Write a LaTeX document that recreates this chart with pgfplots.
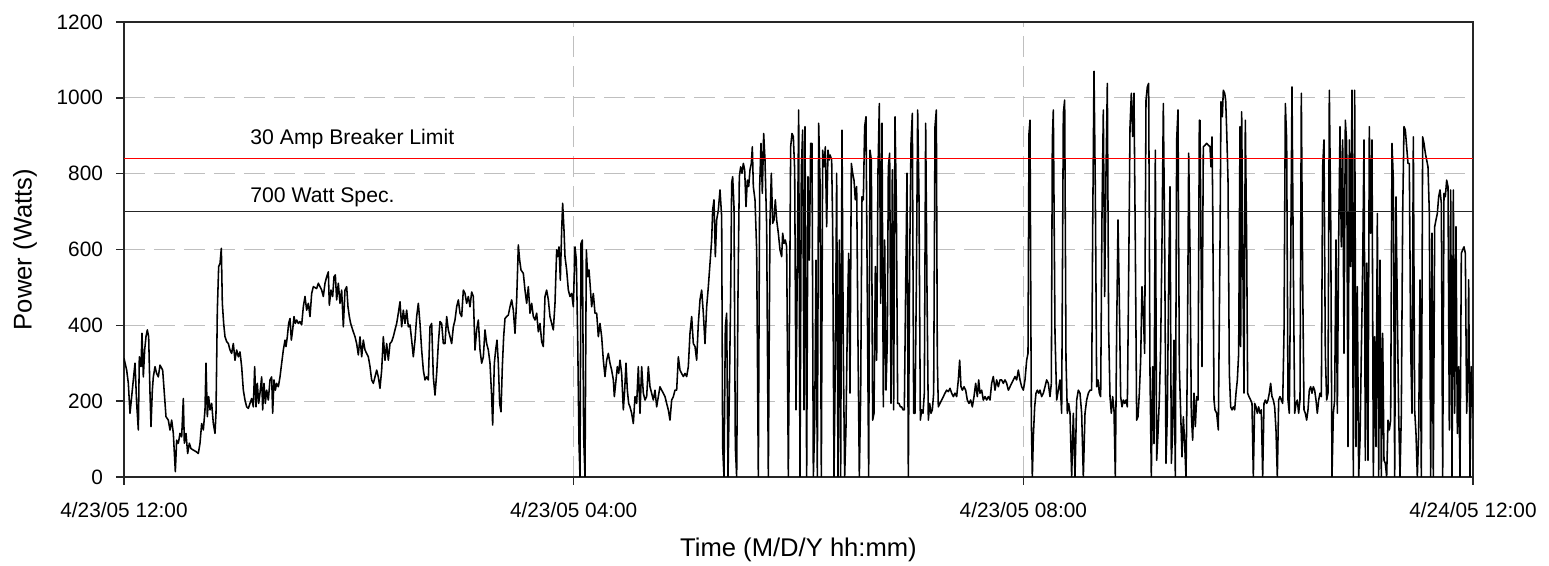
\documentclass[border=0pt]{standalone}
\usepackage{fontspec}
\setmainfont{Liberation Sans}
\usepackage{pgfplots}
\pgfplotsset{compat=1.18}
\usepackage{pgfplotstable}

% Power readings (W); X = horizontal position within each traced stretch
\pgfplotstableread{
X W
12 313
20 282
25 247
30 168
35 212
40 256
45 300
50 194
55 124
58 317
63 291
66 379
70 264
74 335
78 370
82 388
86 370
90 221
93 133
97 229
100 264
105 291
110 273
115 264
120 295
128 282
133 221
138 159
145 150
150 124
155 150
160 115
166 14
170 97
175 89
180 115
185 106
190 207
193 89
198 115
203 62
208 89
213 75
220 71
228 67
235 62
240 89
245 141
250 124
255 177
258 300
262 159
266 212
270 177
275 194
280 141
285 115
288 168
292 440
296 555
300 563
304 603
307 458
311 405
315 370
320 357
325 352
330 335
335 326
340 352
345 308
350 335
355 317
360 330
365 291
370 229
375 203
380 185
385 181
390 194
395 207
400 185
404 291
408 185
412 247
416 194
420 221
425 264
428 177
432 247
436 194
440 229
445 203
450 256
455 264
458 168
462 256
466 229
470 247
475 238
480 264
485 300
490 335
495 361
498 344
502 370
506 405
510 418
514 361
518 388
522 423
526 405
530 414
535 405
540 410
545 401
550 449
555 476
560 440
565 458
570 423
575 484
580 502
590 497
595 511
600 502
605 493
610 476
615 511
620 528
625 541
628 453
633 493
638 476
642 528
646 533
650 467
655 511
660 458
665 493
670 396
675 493
680 502
684 449
688 423
692 405
698 388
705 370
710 352
715 322
720 370
}\segA

\pgfplotstableread{
X W
15 370
20 317
25 361
30 335
35 326
40 317
45 291
50 256
55 247
60 264
65 282
70 264
75 234
80 282
85 370
90 308
95 352
100 308
105 352
110 357
115 370
120 388
125 405
130 432
135 462
140 396
145 440
150 405
155 440
160 396
165 401
170 361
175 317
180 361
185 423
190 458
195 405
200 335
205 282
210 256
215 264
220 256
225 396
230 405
235 264
240 216
245 273
250 352
255 410
260 405
265 352
270 352
275 423
280 388
285 370
290 352
295 396
300 414
305 449
310 467
315 432
320 423
325 493
330 484
335 458
340 476
345 449
350 488
355 476
360 335
365 388
370 414
375 335
380 300
385 317
390 388
395 352
400 335
405 300
410 212
413 137
418 300
422 335
426 361
430 300
434 194
438 172
442 291
446 370
450 418
455 423
460 427
465 449
470 467
475 440
480 379
485 467
490 612
494 572
498 546
505 537
510 493
515 458
520 502
525 432
530 458
535 423
540 414
545 432
550 383
555 405
560 357
565 344
570 476
575 493
580 467
585 423
590 405
595 388
600 458
605 599
608 581
612 607
616 519
620 651
623 722
627 651
630 581
635 546
640 493
645 476
650 484
655 449
660 607
664 572
668 370
672 89
675 0
678 616
682 625
686 106
690 0
694 599
698 528
702 546
705 511
}\segB

\pgfplotstableread{
X W
0 511
5 449
10 484
15 432
20 432
25 370
30 405
35 370
40 308
45 265
50 308
55 326
60 300
65 282
70 256
73 212
78 256
82 291
86 273
90 308
95 273
100 177
104 229
108 300
112 229
116 194
120 185
125 168
130 141
135 212
140 194
145 291
150 168
155 291
160 221
165 203
170 212
175 291
180 238
185 221
190 203
195 229
200 185
205 212
210 238
215 229
220 221
225 212
230 194
235 177
240 150
245 203
250 212
255 229
260 229
265 317
270 282
275 273
280 265
285 273
290 265
295 291
300 379
305 423
310 352
315 344
320 308
325 405
330 467
335 493
340 432
345 352
350 449
355 502
360 563
365 625
368 704
372 731
376 581
380 678
385 704
390 757
395 687
398 80
402 0
406 396
410 432
414 0
418 221
422 484
425 775
428 792
432 713
436 80
440 0
444 484
448 792
452 818
456 801
460 827
464 810
468 713
472 783
476 766
480 810
484 827
487 871
490 766
495 731
500 599
505 0
509 766
513 880
517 748
521 906
525 836
530 660
535 0
540 678
544 801
548 669
552 678
556 731
560 678
565 643
570 599
575 581
578 643
582 616
586 625
590 607
595 0
598 352
602 871
606 906
610 898
614 810
618 177
622 572
626 968
630 0
634 810
638 915
642 177
645 924
650 0
654 792
658 572
662 880
666 880
670 0
674 133
678 572
682 0
686 933
690 783
694 0
698 862
702 818
706 871
710 660
714 862
718 836
720 850
}\segC

\pgfplotstableread{
X W
30 850
35 836
38 660
42 0
46 308
50 801
54 0
58 625
62 0
66 915
70 326
74 0
78 133
82 405
86 590
90 221
94 827
98 801
102 783
106 731
110 766
114 352
118 0
122 221
126 739
130 731
134 924
138 950
142 467
146 0
150 862
154 836
158 150
162 168
166 555
170 308
174 810
178 985
182 458
186 933
190 185
194 625
198 229
202 361
205 818
209 854
213 194
217 810
221 177
225 950
229 722
233 194
237 194
241 185
245 185
249 177
253 177
257 502
261 801
265 0
269 572
273 880
277 959
281 168
285 168
289 502
293 968
297 739
301 150
305 177
309 168
313 221
317 933
321 493
325 150
329 194
333 168
337 177
341 221
345 924
349 968
352 308
355 185
360 194
365 203
370 212
375 221
380 229
385 225
390 234
395 221
400 212
405 221
410 212
415 256
419 308
423 238
427 229
432 238
437 229
442 203
447 194
452 203
457 185
462 212
467 247
472 212
476 256
480 221
485 229
490 203
495 212
500 203
505 212
510 203
515 247
520 265
525 229
530 256
535 238
540 256
545 256
550 247
555 256
560 247
565 229
570 238
575 247
580 256
585 265
590 256
595 282
600 256
605 238
610 229
615 256
620 308
624 326
627 906
630 941
634 150
637 0
640 106
644 185
648 221
652 229
656 221
660 229
665 212
670 221
675 238
680 256
685 247
690 212
694 247
}\segD

\pgfplotstableread{
X W
334 247
337 889
340 968
345 379
350 203
355 229
360 256
365 168
370 959
374 994
378 308
382 168
386 194
390 168
395 0
400 168
405 0
410 203
415 229
420 221
425 168
430 0
435 168
440 203
445 221
450 229
455 229
458 651
462 1070
466 757
470 238
474 256
478 221
482 212
486 695
490 968
494 476
498 801
502 1038
506 388
510 212
514 168
518 212
522 177
526 0
530 388
534 678
538 467
542 212
546 185
550 203
554 194
558 203
562 185
566 528
570 924
574 1012
578 898
582 1012
586 607
590 150
594 159
598 221
602 308
606 502
610 432
614 326
618 994
622 1029
626 1038
630 273
634 0
638 291
642 88
646 862
650 44
654 115
658 203
662 344
666 625
670 985
674 625
678 36
682 168
686 520
690 766
694 36
698 124
702 361
706 0
710 889
714 968
718 291
722 168
726 53
730 159
734 88
738 0
742 300
746 854
750 599
754 168
758 97
762 221
766 133
770 212
774 203
778 941
780 941
}\segE

\pgfplotstableread{
X W
0 941
3 607
6 291
10 871
15 875
20 880
25 875
30 871
33 818
36 897
38 739
42 203
45 177
50 168
55 124
60 616
63 990
67 950
70 1020
74 1012
77 994
80 915
84 783
88 273
92 185
96 177
100 185
104 177
108 221
112 256
116 326
120 924
122 344
125 963
128 625
132 221
136 941
140 616
143 221
147 212
152 203
156 194
160 0
164 194
168 185
172 168
176 185
180 168
184 177
188 0
192 194
196 203
200 194
204 203
208 221
212 247
216 212
220 203
224 185
228 124
232 0
236 203
240 212
244 203
248 194
252 379
256 985
260 889
264 203
268 168
272 555
276 1029
280 555
284 168
288 194
292 203
296 168
300 203
304 1012
308 520
312 177
316 168
320 150
324 177
328 229
332 238
336 221
340 238
344 229
348 203
352 168
356 203
360 221
364 212
368 818
372 889
376 326
380 203
384 221
388 1020
392 695
396 0
400 168
404 203
408 625
412 168
416 625
420 924
424 607
428 889
432 326
436 941
440 880
444 80
448 889
452 555
456 1020
460 0
464 1020
468 80
472 502
476 0
480 97
484 326
488 555
492 889
496 44
500 564
504 44
508 924
512 643
516 889
520 0
524 370
528 80
532 695
536 0
540 572
544 0
548 379
552 44
556 36
560 0
564 150
568 124
572 150
576 880
580 783
584 0
588 739
592 440
596 168
600 0
604 168
608 695
612 924
616 915
620 871
624 827
628 827
632 344
636 168
640 897
644 177
648 115
652 0
656 115
660 520
664 0
668 897
672 880
676 854
680 836
684 818
688 695
692 0
696 643
700 0
704 660
708 678
712 695
716 739
720 757
724 722
728 0
732 748
736 739
740 783
744 766
748 124
752 757
756 0
760 757
764 168
768 660
772 115
776 291
780 0
784 590
788 599
792 607
796 590
800 168
804 300
806 520
810 0
814 291
819 168
}\segF

\begin{document}
\begin{tikzpicture}
\useasboundingbox (0,0) rectangle (774.5pt,283pt);
\begin{axis}[
  at={(62pt,44.5pt)}, anchor=south west,
  scale only axis, width=674.5pt, height=227.5pt,
  xmin=0, xmax=12, ymin=0, ymax=1200,
  xtick={0,4,8,12},
  xticklabels={4/23/05 12:00, 4/23/05 04:00, 4/23/05 08:00, 4/24/05 12:00},
  ytick={0,200,...,1200},
  tick align=outside, tick pos=left, major tick length=4pt,
  xmajorgrids, ymajorgrids,
  major grid style={color=black!25, line width=0.6pt, dash pattern=on 10.5pt off 4.5pt},
  axis line style={black!85, line width=0.7pt},
  tick style={black!85, line width=0.7pt},
  ticklabel style={font=\fontsize{10.4}{12}\selectfont},
  xticklabel style={yshift=-5pt},
  yticklabel style={xshift=-3pt},
  /pgf/number format/assume math mode=true,
  /pgf/number format/1000 sep={},
  xlabel={Time (M/D/Y hh:mm)},
  ylabel={Power (Watts)},
  label style={font=\fontsize{12.8}{15}\selectfont},
  xlabel style={at={(axis description cs:0.5,-0.16)}, anchor=center},
  ylabel style={at={(axis description cs:-0.0734,0.5)}, anchor=center},
  every axis plot/.append style={no markers, line join=round},
]
\addplot[black, line width=0.78pt] table[x expr={(120+\thisrow{X}/3-124)/112.4167}, y=W] {\segA};
\addplot[black, line width=0.78pt] table[x expr={(355+\thisrow{X}/3-124)/112.4167}, y=W] {\segB};
\addplot[black, line width=0.78pt] table[x expr={(590+\thisrow{X}/3-124)/112.4167}, y=W] {\segC};
\addplot[black, line width=0.78pt] table[x expr={(820+\thisrow{X}/3-124)/112.4167}, y=W] {\segD};
\addplot[black, line width=0.78pt] table[x expr={(940+\thisrow{X}/3-124)/112.4167}, y=W] {\segE};
\addplot[black, line width=0.78pt] table[x expr={(1200+\thisrow{X}/3-124)/112.4167}, y=W] {\segF};
\addplot[red, line width=0.6pt] coordinates {(0,840) (12,840)};
\addplot[black!85, line width=0.6pt] coordinates {(0,700) (12,700)};
\node[anchor=west, inner sep=0pt, font=\fontsize{10.6}{12}\selectfont] at (axis cs:1.121,891) {30 Amp Breaker Limit};
\node[anchor=west, inner sep=0pt, font=\fontsize{10.6}{12}\selectfont] at (axis cs:1.121,738) {700 Watt Spec.};
\end{axis}
\end{tikzpicture}
\end{document}
